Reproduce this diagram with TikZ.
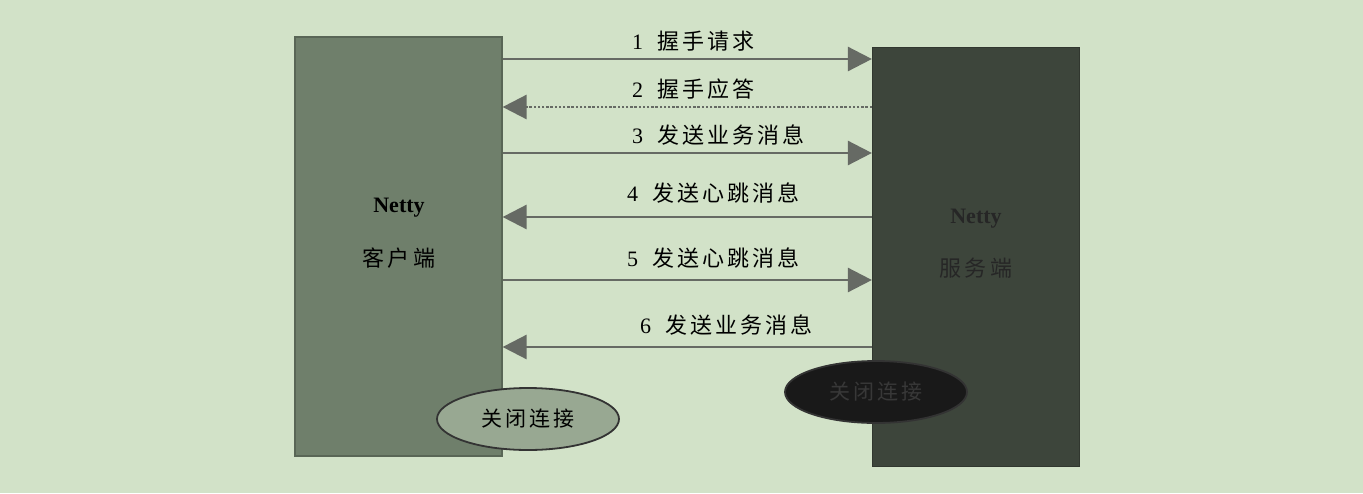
\documentclass[tikz,border=0pt]{standalone}
\usepackage{fontspec}
\setmainfont{Liberation Serif}
\newfontfamily\cjk[LetterSpace=14]{Noto Sans CJK SC}
\usetikzlibrary{arrows.meta,shapes.geometric}
\definecolor{bgc}{HTML}{D2E2C8}
\definecolor{lbox}{HTML}{6F7F6B}
\definecolor{rbox}{HTML}{3D453B}
\definecolor{arr}{HTML}{666A64}
\definecolor{lell}{HTML}{98A892}
\newcommand{\msgtext}[2]{#1\hspace{14pt}{\cjk #2}}
\begin{document}
\begin{tikzpicture}[x=1pt,y=-1pt,
  box/.style={draw=#1!80!black,fill=#1,line width=1.2pt,minimum width=207pt,minimum height=419pt,inner sep=0pt},
  msg/.style={draw=arr,line width=2.6pt,-{Triangle[length=24pt,width=24pt]}},
  lbl/.style={anchor=west,font=\fontsize{22}{24}\selectfont,inner sep=0pt},
  ell/.style={ellipse,draw=black!80,line width=1.8pt,minimum width=182pt,minimum height=62pt,inner sep=0pt,font=\cjk\fontsize{21}{23}\selectfont}]
\fill[bgc] (0,0) rectangle (1363,493);
\useasboundingbox (0,0) rectangle (1363,493);
\node[box=lbox] (L) at (398.5,246.5) {};
\node[box=rbox] (R) at (976,257) {};
\node[font=\bfseries\fontsize{22}{24}\selectfont] (LN) at (399,208) {Netty};
\node[font=\cjk\fontsize{22}{24}\selectfont] (LC) at (399,258) {客户端};
\node[font=\bfseries\fontsize{22}{24}\selectfont,text=black!85] (RN) at (976,219) {Netty};
\node[font=\cjk\fontsize{22}{24}\selectfont,text=black!85] (RC) at (976,268) {服务端};
\coordinate (a1) at (0,59);
\coordinate (a2) at (0,107);
\coordinate (a3) at (0,153);
\coordinate (a4) at (0,217);
\coordinate (a5) at (0,280);
\coordinate (a6) at (0,347);
\draw[msg] (L.east |- a1) -- (R.west |- a1);
\draw[msg,dash pattern=on 2.4pt off 1.8pt] (R.west |- a2) -- (L.east |- a2);
\draw[msg] (L.east |- a3) -- (R.west |- a3);
\draw[msg] (R.west |- a4) -- (L.east |- a4);
\draw[msg] (L.east |- a5) -- (R.west |- a5);
\draw[msg] (R.west |- a6) -- (L.east |- a6);
\node[lbl] (t1) at (632,41) {\msgtext{1}{握手请求}};
\node[lbl] (t2) at (632,89) {\msgtext{2}{握手应答}};
\node[lbl] (t3) at (632,135) {\msgtext{3}{发送业务消息}};
\node[lbl] (t4) at (627,193) {\msgtext{4}{发送心跳消息}};
\node[lbl] (t5) at (627,258) {\msgtext{5}{发送心跳消息}};
\node[lbl] (t6) at (640,325) {\msgtext{6}{发送业务消息}};
\node[ell,fill=lell] (E1) at (528,419) {关闭连接};
\node[ell,fill=black!90,text=black!78] (E2) at (876,392) {关闭连接};
\end{tikzpicture}
\end{document}
